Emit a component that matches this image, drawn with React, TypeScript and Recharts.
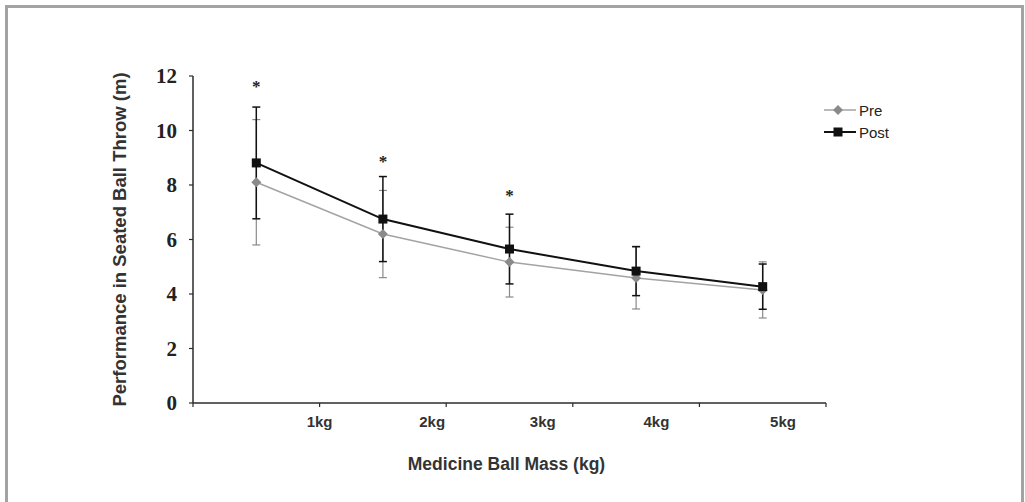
import React from 'react';
import {
  LineChart, Line, XAxis, YAxis, ErrorBar, LabelList, Label,
} from 'recharts';

// Medicine ball masses (kg) and seated ball throw results (m), mean ± SD
const MASS_KG = [1, 2, 3, 4, 5];
const MASS_LABELS = ['1kg', '2kg', '3kg', '4kg', '5kg'];
const PRE = [8.1, 6.2, 5.17, 4.59, 4.15];
const PRE_SD = [2.3, 1.6, 1.28, 1.14, 1.03];
const POST = [8.81, 6.75, 5.65, 4.84, 4.27];
const POST_SD = [2.05, 1.56, 1.28, 0.9, 0.83];
// height of the significance asterisk (null = no significant difference)
const SIG_STAR = [11.75, 9.0, 7.75, null, null];
const Y_TICKS = [0, 2, 4, 6, 8, 10, 12];

// Excel-style chart: each mass sits in the middle of its band on the x axis
const DATA = MASS_KG.map((kg, i) => ({
  x: kg - 0.5,
  pre: PRE[i],
  preSd: PRE_SD[i],
  post: POST[i],
  postSd: POST_SD[i],
  star: SIG_STAR[i],
}));

const PRE_COLOR = '#a3a3a3';
const PRE_MARK = '#8a8a8a';
const POST_COLOR = '#111111';
const AXIS = '#2b2b2b';
const SANS = 'Arial, "Liberation Sans", Helvetica, sans-serif';
const SERIF = '"Times New Roman", "Liberation Serif", serif';

// the tick labels in the original are nudged left of their tick marks
const LABEL_DX = [0, 0, -14, -30, -43, -43];

const Diamond = ({ cx, cy }: { cx?: number; cy?: number }) => {
  if (cx == null || cy == null) return null;
  const r = 5;
  return <path d={`M${cx},${cy - r}L${cx + r},${cy}L${cx},${cy + r}L${cx - r},${cy}Z`} fill={PRE_MARK} />;
};

const Square = ({ cx, cy }: { cx?: number; cy?: number }) => {
  if (cx == null || cy == null) return null;
  return <rect x={cx - 4.5} y={cy - 4.5} width={9} height={9} fill={POST_COLOR} />;
};

const MassTick = ({ x, y, payload, index }: { x?: number; y?: number; payload?: { value: number }; index?: number }) => {
  const i = index ?? 0;
  if (!payload || payload.value === 0) return null;
  return (
    <text
      x={(x ?? 0) + LABEL_DX[i]}
      y={(y ?? 0) + 18}
      textAnchor="middle"
      fontFamily={SANS}
      fontWeight={700}
      fontSize={15}
      fill="#333"
    >
      {MASS_LABELS[i - 1]}
    </text>
  );
};

const LegendBox = () => (
  <div style={{ fontFamily: SANS, fontSize: 15, color: '#222' }}>
    <div style={{ display: 'flex', alignItems: 'center', height: 22 }}>
      <svg width={34} height={14}>
        <line x1={2} y1={7} x2={34} y2={7} stroke={PRE_COLOR} strokeWidth={1.5} />
        <Diamond cx={16} cy={7} />
      </svg>
      <span style={{ marginLeft: 3 }}>Pre</span>
    </div>
    <div style={{ display: 'flex', alignItems: 'center', height: 22 }}>
      <svg width={34} height={14}>
        <line x1={2} y1={7} x2={34} y2={7} stroke={POST_COLOR} strokeWidth={2} />
        <Square cx={16} cy={7} />
      </svg>
      <span style={{ marginLeft: 3 }}>Post</span>
    </div>
  </div>
);

export default function App() {
  return (
    <div style={{ position: 'relative', width: 1025, height: 502, overflow: 'hidden', background: '#fff' }}>
      <style>{'body{margin:0}'}</style>
      {/* grey figure frame */}
      <div
        style={{
          position: 'absolute', left: 5, top: 5, width: 1013, height: 530,
          border: '3px solid #a3a3a3', boxSizing: 'content-box',
        }}
      />
      <div style={{ position: 'absolute', left: 0, top: 0 }}>
        <LineChart
          width={1025}
          height={502}
          data={DATA}
          margin={{ top: 76, right: 199, bottom: 39, left: 100 }}
        >
          <XAxis
            dataKey="x"
            type="number"
            domain={[0, 5]}
            ticks={[0, 1, 2, 3, 4, 5]}
            height={60}
            axisLine={{ stroke: AXIS, strokeWidth: 1.5 }}
            tickLine={{ stroke: AXIS, strokeWidth: 1.2 }}
            tickSize={4}
            tick={<MassTick />}
            interval={0}
          >
            <Label
              content={({ viewBox }: any) => (
                <text
                  x={viewBox.x + viewBox.width / 2 - 3}
                  y={470}
                  textAnchor="middle"
                  fontFamily={SANS}
                  fontWeight={700}
                  fontSize={17.5}
                  fill="#333"
                >
                  Medicine Ball Mass (kg)
                </text>
              )}
            />
          </XAxis>
          <YAxis
            type="number"
            domain={[0, 12]}
            ticks={Y_TICKS}
            width={93}
            axisLine={{ stroke: AXIS, strokeWidth: 1.5 }}
            tickLine={{ stroke: AXIS, strokeWidth: 1.2 }}
            tickSize={4}
            tickMargin={12}
            tick={{ fontFamily: SERIF, fontWeight: 700, fontSize: 21, fill: '#222' }}
          >
            <Label
              content={({ viewBox }: any) => {
                const cx = viewBox.x + 19;
                const cy = viewBox.y + viewBox.height / 2;
                return (
                  <text
                    x={cx}
                    y={cy}
                    transform={`rotate(-90 ${cx} ${cy})`}
                    textAnchor="middle"
                    dominantBaseline="central"
                    fontFamily={SANS}
                    fontWeight={700}
                    fontSize={18.5}
                    fill="#333"
                  >
                    Performance in Seated Ball Throw (m)
                  </text>
                );
              }}
            />
          </YAxis>
          <Line
            dataKey="pre"
            name="Pre"
            stroke={PRE_COLOR}
            strokeWidth={1.5}
            dot={<Diamond />}
            activeDot={false}
            isAnimationActive={false}
          >
            <ErrorBar dataKey="preSd" width={4} stroke={PRE_MARK} strokeWidth={1.2} direction="y" />
          </Line>
          <Line
            dataKey="post"
            name="Post"
            stroke={POST_COLOR}
            strokeWidth={2}
            dot={<Square />}
            activeDot={false}
            isAnimationActive={false}
          >
            <ErrorBar dataKey="postSd" width={4} stroke={POST_COLOR} strokeWidth={1.5} direction="y" />
          </Line>
          <Line
            dataKey="star"
            stroke="none"
            dot={false}
            activeDot={false}
            legendType="none"
            isAnimationActive={false}
          >
            <LabelList
              dataKey="star"
              content={({ x, y, value }: any) =>
                value == null ? null : (
                  <text x={x} y={y + 9} textAnchor="middle" fontFamily={SERIF} fontWeight={700} fontSize={17} fill="#222">
                    *
                  </text>
                )
              }
            />
          </Line>
        </LineChart>
      </div>
      <div style={{ position: 'absolute', left: 822, top: 99 }}>
        <LegendBox />
      </div>
    </div>
  );
}
